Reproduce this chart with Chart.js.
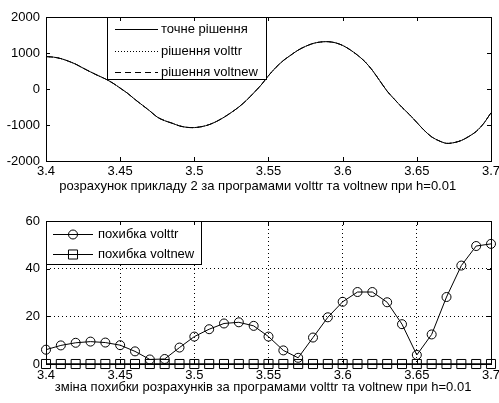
<!DOCTYPE html>
<html><head><meta charset="utf-8">
<script src="https://cdn.jsdelivr.net/npm/chart.js@4"></script>
<style>
html,body{margin:0;padding:0;background:#fff;width:499px;height:403px;overflow:hidden}
#c1{position:absolute;left:0;top:0}
#c2{position:absolute;left:0;top:200px}
</style></head><body>
<canvas id="c1" width="499" height="200"></canvas>
<canvas id="c2" width="499" height="203"></canvas>
<script>
// ---------- data ----------
const solX = [3.400,3.405,3.410,3.415,3.420,3.425,3.430,3.435,3.440,3.445,3.450,3.455,3.460,3.465,3.470,3.475,3.480,3.485,3.490,3.495,3.500,3.505,3.510,3.515,3.520,3.525,3.530,3.535,3.540,3.545,3.550,3.555,3.560,3.565,3.570,3.575,3.580,3.585,3.590,3.595,3.600,3.605,3.610,3.615,3.620,3.625,3.630,3.635,3.640,3.645,3.650,3.655,3.660,3.665,3.670,3.675,3.680,3.685,3.690,3.695,3.700];
const solExact = [900,885,845,775,690,580,475,375,280,165,25,-120,-290,-450,-610,-780,-880,-950,-1025,-1065,-1072,-1045,-990,-900,-785,-650,-500,-320,-110,110,370,600,790,940,1080,1185,1265,1305,1315,1285,1210,1090,940,760,520,230,-60,-290,-510,-710,-930,-1150,-1330,-1440,-1510,-1490,-1430,-1320,-1180,-960,-660];
const solVolttr = [900,885,845,775,690,580,475,375,280,165,25,-120,-290,-450,-610,-780,-880,-950,-1025,-1065,-1072,-1045,-990,-900,-785,-650,-500,-320,-110,110,370,600,790,940,1080,1185,1265,1305,1315,1285,1210,1090,940,760,520,230,-60,-290,-510,-710,-930,-1150,-1330,-1440,-1510,-1490,-1430,-1320,-1180,-960,-660];
const solVoltnew = [900,885,845,775,690,580,475,375,280,165,25,-120,-290,-450,-610,-780,-880,-950,-1025,-1065,-1072,-1045,-990,-900,-785,-650,-500,-320,-110,110,370,600,790,940,1080,1185,1265,1305,1315,1285,1210,1090,940,760,520,230,-60,-290,-510,-710,-930,-1150,-1330,-1440,-1510,-1490,-1430,-1320,-1180,-960,-660];

const errX = [3.40,3.41,3.42,3.43,3.44,3.45,3.46,3.47,3.48,3.49,3.50,3.51,3.52,3.53,3.54,3.55,3.56,3.57,3.58,3.59,3.60,3.61,3.62,3.63,3.64,3.65,3.66,3.67,3.68,3.69,3.70];
const errVolttr = [6.0,7.8,8.9,9.4,9.0,7.9,5.3,1.9,2.1,6.9,11.5,14.6,17.0,17.5,16.0,11.5,5.7,2.6,11.1,19.6,26.1,30.2,30.2,25.9,16.7,3.8,12.4,28.1,41.3,49.5,50.4];
const errVoltnew = [0,0,0,0,0,0,0,0,0,0,0,0,0,0,0,0,0,0,0,0,0,0,0,0,0,0,0,0,0,0,0];

const xTickMin = 3.4, xTickMax = 3.7, xTickStep = 0.05;
const topYTicks = [-2000, 2000, 1000];     // min, max, step
const botYTicks = [0, 60, 20];

const topLabels = ['точне рішення', 'рішення volttr', 'рішення voltnew'];
const botLabels = ['похибка volttr', 'похибка voltnew'];
const topTitle = 'розрахунок прикладу 2 за програмами volttr та voltnew при h=0.01';
const botTitle = 'зміна похибки розрахунків за програмами volttr та voltnew при h=0.01';

// ---------- style ----------
const FONT = '"Liberation Sans", Arial, sans-serif';
const FS = 13;
Chart.defaults.font.family = FONT;
Chart.defaults.font.size = FS;
Chart.defaults.color = '#000';

function pts(xs, ys){ return xs.map((x,i)=>({x:x, y:ys[i]})); }

const framePlugin = {
  id: 'frame',
  afterDraw(chart, args, opts) {
    const {ctx, chartArea: a, scales: {x, y}} = chart;
    ctx.save();
    // legend
    const L = opts.legend;
    ctx.fillStyle = '#fff';
    ctx.fillRect(L.left, L.top, L.right - L.left, L.bottom - L.top);
    ctx.strokeStyle = '#000'; ctx.lineWidth = 1;
    ctx.strokeRect(L.left + 0.5, L.top + 0.5, L.right - L.left, L.bottom - L.top);
    ctx.font = FS + 'px ' + FONT;
    ctx.textBaseline = 'middle'; ctx.textAlign = 'left';
    chart.data.datasets.forEach((ds, i) => {
      const ry = L.rows[i] + 0.5;
      ctx.save();
      ctx.strokeStyle = ds.borderColor; ctx.lineWidth = 1;
      ctx.setLineDash(ds.borderDash || []);
      ctx.beginPath(); ctx.moveTo(L.x0, ry); ctx.lineTo(L.x1, ry); ctx.stroke();
      ctx.restore();
      if (ds.pointRadius > 0) {
        ctx.save();
        ctx.fillStyle = 'rgba(0,0,0,0)'; ctx.strokeStyle = '#000'; ctx.lineWidth = 1;
        Chart.helpers.drawPoint(ctx, {pointStyle: ds.pointStyle, radius: ds.pointRadius, borderWidth: 1, rotation: 0}, (L.x0 + L.x1) / 2, ry);
        ctx.restore();
      }
      ctx.fillStyle = '#000';
      ctx.fillText(ds.label, L.tx, L.rows[i]);
    });
    // inner ticks
    ctx.strokeStyle = '#000'; ctx.lineWidth = 1; ctx.setLineDash([]);
    ctx.beginPath();
    x.ticks.forEach((t, i) => {
      const px = Math.round(x.getPixelForTick(i)) + 0.5;
      ctx.moveTo(px, a.bottom); ctx.lineTo(px, a.bottom - 4);
      ctx.moveTo(px, a.top); ctx.lineTo(px, a.top + 4);
    });
    y.ticks.forEach((t, i) => {
      const py = Math.round(y.getPixelForTick(i)) + 0.5;
      ctx.moveTo(a.left, py); ctx.lineTo(a.left + 4, py);
      ctx.moveTo(a.right, py); ctx.lineTo(a.right - 4, py);
    });
    ctx.stroke();
    ctx.strokeRect(Math.round(a.left) + 0.5, Math.round(a.top) + 0.5, Math.round(a.right - a.left), Math.round(a.bottom - a.top));
    ctx.restore();
  }
};

function xScale(title, titlePadBottom, tickPad, grid) {
  return {
    type: 'linear', min: xTickMin, max: xTickMax,
    ticks: {stepSize: xTickStep, padding: tickPad, maxRotation: 0, autoSkip: false,
      callback: v => String(+v.toFixed(2))},
    grid: grid ? {display: true, color: '#000', drawTicks: false, lineWidth: 1} : {display: false, drawTicks: false},
    border: grid ? {display: false, dash: [1, 3]} : {display: false},
    title: {display: true, text: title, font: {size: FS}, padding: {top: 0, bottom: titlePadBottom}},
    afterFit: s => { s.height = 39; s.paddingLeft = 0; s.paddingRight = 0; }
  };
}
function yScale(t, grid) {
  return {
    type: 'linear', min: t[0], max: t[1],
    ticks: {stepSize: t[2], padding: 6, callback: v => String(v)},
    grid: grid ? {display: true, color: '#000', drawTicks: false, lineWidth: 1} : {display: false, drawTicks: false},
    border: grid ? {display: false, dash: [1, 3]} : {display: false},
    afterFit: s => { s.width = 46; s.paddingTop = 0; s.paddingBottom = 0; }
  };
}

new Chart(document.getElementById('c1'), {
  type: 'line',
  data: {datasets: [
    {label: topLabels[0], data: pts(solX, solExact), borderColor: '#000', borderWidth: 1, pointRadius: 0, tension: 0.3},
    {label: topLabels[1], data: pts(solX, solVolttr), borderColor: '#000', borderWidth: 1, borderDash: [1, 2], pointRadius: 0, tension: 0.3},
    {label: topLabels[2], data: pts(solX, solVoltnew), borderColor: '#000', borderWidth: 1, borderDash: [6, 4], pointRadius: 0, tension: 0.3}
  ]},
  options: {
    responsive: false, animation: false, devicePixelRatio: 1,
    layout: {padding: {left: 0, right: 8, top: 17, bottom: 0}},
    plugins: {legend: {display: false}, tooltip: {enabled: false},
      frame: {legend: {left: 107, top: 17, right: 266, bottom: 79, rows: [29, 51, 72], x0: 115, x1: 158, tx: 161}}},
    scales: {x: xScale(topTitle + '      ', 6, 3, false), y: yScale(topYTicks, false)}
  },
  plugins: [framePlugin]
});

new Chart(document.getElementById('c2'), {
  type: 'line',
  data: {datasets: [
    {label: botLabels[0], data: pts(errX, errVolttr), borderColor: '#000', borderWidth: 1, pointStyle: 'circle', pointRadius: 4.5,
      pointBorderColor: '#000', pointBackgroundColor: 'rgba(0,0,0,0)', pointBorderWidth: 1, tension: 0, clip: false},
    {label: botLabels[1], data: pts(errX, errVoltnew), borderColor: '#000', borderWidth: 1.5, pointStyle: 'rect', pointRadius: 6.4,
      pointBorderColor: '#000', pointBackgroundColor: 'rgba(0,0,0,0)', pointBorderWidth: 1, tension: 0, clip: false}
  ]},
  options: {
    responsive: false, animation: false, devicePixelRatio: 1,
    layout: {padding: {left: 0, right: 8, top: 21, bottom: 0}},
    plugins: {legend: {display: false}, tooltip: {enabled: false},
      frame: {legend: {left: 46, top: 21, right: 201, bottom: 64, rows: [34, 54], x0: 53, x1: 93, tx: 98}}},
    scales: {x: xScale(botTitle + '   ', 8, 4, true), y: yScale(botYTicks, true)}
  },
  plugins: [framePlugin]
});
</script>
</body></html>
